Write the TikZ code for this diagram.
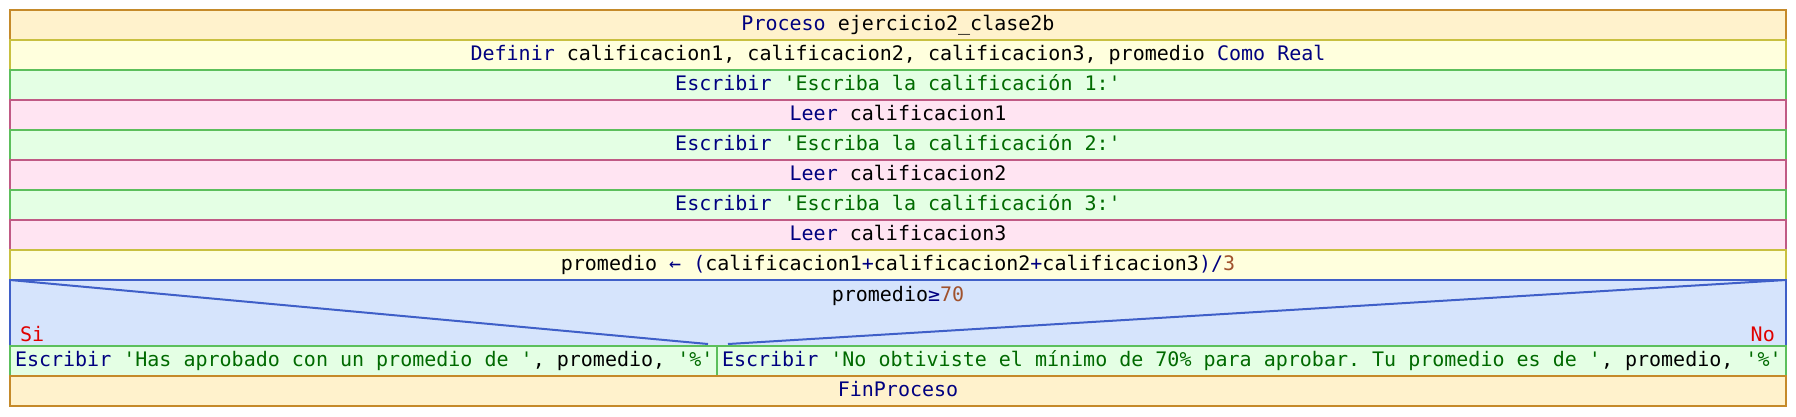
\documentclass[tikz,border=0pt]{standalone}
\usepackage{fontspec}
\setmonofont{DejaVu Sans Mono}
\definecolor{procfill}{HTML}{FFF2CC}
\definecolor{procline}{HTML}{C58A2A}
\definecolor{deffill}{HTML}{FFFFDD}
\definecolor{defline}{HTML}{C8C040}
\definecolor{escfill}{HTML}{E4FFE4}
\definecolor{escline}{HTML}{5CBF5C}
\definecolor{leerfill}{HTML}{FFE4F2}
\definecolor{leerline}{HTML}{C05A85}
\definecolor{condfill}{HTML}{D6E4FC}
\definecolor{condline}{HTML}{3F5FC8}
\definecolor{kwc}{HTML}{000080}
\definecolor{strc}{HTML}{006A00}
\definecolor{numc}{HTML}{A0522D}
\definecolor{brc}{HTML}{E00000}
\newcommand\kw[1]{\textcolor{kwc}{#1}}
\newcommand\st[1]{\textcolor{strc}{#1}}
\newcommand\nm[1]{\textcolor{numc}{#1}}
\begin{document}
\begin{tikzpicture}[x=1pt,y=-1pt,
  font=\ttfamily\fontsize{20}{24}\selectfont,
  row/.style={minimum width=1776pt, minimum height=30pt, inner sep=0pt,
    outer sep=0pt, text height=15pt, text depth=4pt, line width=2pt,
    anchor=north west},
  proc/.style={row, fill=procfill, draw=procline},
  defn/.style={row, fill=deffill, draw=defline},
  esc/.style={row, fill=escfill, draw=escline},
  leer/.style={row, fill=leerfill, draw=leerline},
  cond/.style={row, fill=condfill, draw=condline, minimum height=66pt},
  diag/.style={draw=condline, line width=2pt},
  branchlbl/.style={text=brc, inner sep=0pt},
  cell/.style={esc, inner xsep=5pt}
]
\useasboundingbox (0,0) rectangle (1796,416);
\node[proc] (title) at (10,10) {\kw{Proceso} ejercicio2\_clase2b};
\node[defn] (def) at (10,40) {\kw{Definir} calificacion1, calificacion2, calificacion3, promedio \kw{Como Real}};
\node[esc] (e1) at (10,70) {\kw{Escribir} \st{'Escriba la calificación 1:'}};
\node[leer] (l1) at (10,100) {\kw{Leer} calificacion1};
\node[esc] (e2) at (10,130) {\kw{Escribir} \st{'Escriba la calificación 2:'}};
\node[leer] (l2) at (10,160) {\kw{Leer} calificacion2};
\node[esc] (e3) at (10,190) {\kw{Escribir} \st{'Escriba la calificación 3:'}};
\node[leer] (l3) at (10,220) {\kw{Leer} calificacion3};
\node[defn] (asig) at (10,250) {promedio \kw{← (}calificacion1\kw{+}calificacion2\kw{+}calificacion3\kw{)/}\nm{3}};
\node[cond] (cond) at (10,280) {};
\coordinate (splitL) at (708,344);
\coordinate (splitR) at (728,344);
\draw[diag] (cond.north west) -- (splitL);
\draw[diag] (splitR) -- (cond.north east);
\node[anchor=base, inner sep=0pt] (condtxt) at (898,301) {promedio\kw{≥}\nm{70}};
\node[branchlbl, anchor=base west] (si) at (20,341) {Si};
\node[branchlbl, anchor=base east] (no) at (1775,341) {No};
\node[cell, minimum width=707pt] (yes) at (10,346) {\makebox[697pt][l]{\kw{Escribir} \st{'Has aprobado con un promedio de '}, promedio, \st{'\%'}}};
\node[cell, minimum width=1069pt] (nob) at (717,346) {\makebox[1059pt][l]{\kw{Escribir} \st{'No obtiviste el mínimo de 70\% para aprobar. Tu promedio es de '}, promedio, \st{'\%'}}};
\node[proc] (fin) at (10,376) {\kw{FinProceso}};
\end{tikzpicture}
\end{document}
